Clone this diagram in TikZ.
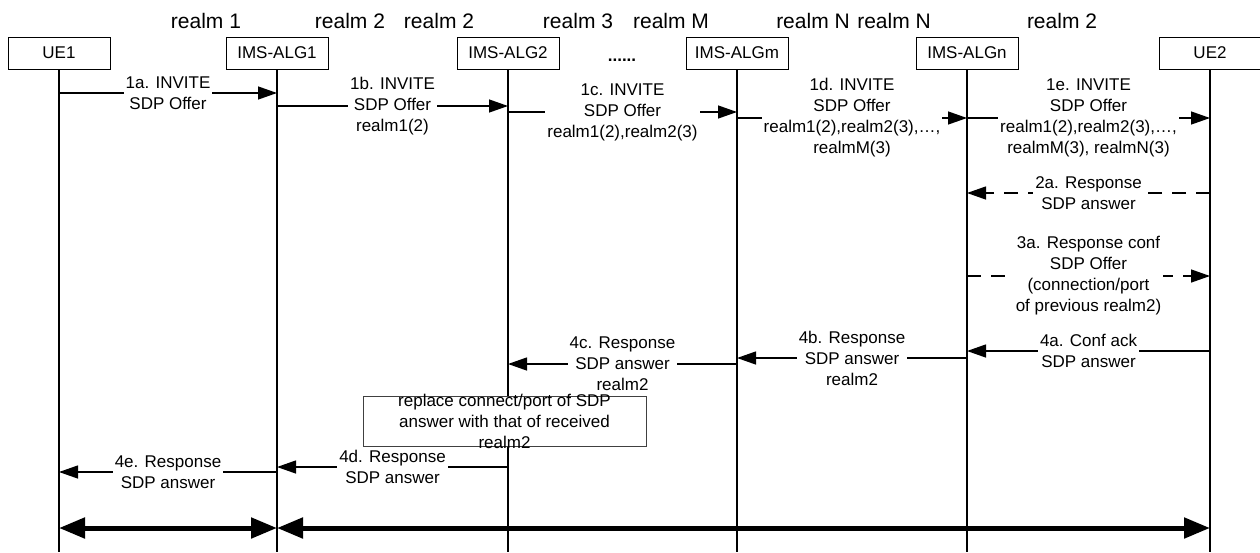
\documentclass[tikz,border=0pt]{standalone}
\usepackage{fontspec}
\setmainfont{Liberation Sans}
\usetikzlibrary{arrows.meta}

\begin{document}
\begin{tikzpicture}[x=1pt,y=-1pt,
  head/.style={draw, line width=1pt, fill=white, minimum width=102pt,
    minimum height=32pt, inner sep=0pt, font=\fontsize{17}{21}\selectfont},
  life/.style={line width=1.2pt},
  msg/.style={line width=1.3pt, -{Triangle[length=19pt,width=13pt]}},
  rsp/.style={msg, dash pattern=on 14pt off 10pt},
  lbl/.style={fill=white, inner sep=2pt, align=center,
    font=\fontsize{17}{21}\selectfont},
  notetext/.style={inner sep=0pt, align=center, font=\fontsize{17}{21}\selectfont},
  notebox/.style={draw=black!75, line width=0.8pt, fill=white,
    minimum width=283pt, minimum height=50pt, inner sep=0pt},
  realm/.style={inner sep=0pt, font=\fontsize{21}{25}\selectfont},
  bold/.style={line width=5pt,
    {Triangle[length=26pt,width=20pt]}-{Triangle[length=26pt,width=20pt]}},
]
\useasboundingbox (0,0) rectangle (1260,552);
\fill[white] (0,0) rectangle (1260,552);

% realm names along the top
\node[realm] (r1)  at (206,21)  {realm 1};
\node[realm] (r2a) at (350,21)  {realm 2};
\node[realm] (r2b) at (439,21)  {realm 2};
\node[realm] (r3)  at (578,21)  {realm 3};
\node[realm] (rM)  at (671,21)  {realm M};
\node[realm] (rNa) at (813,21)  {realm N};
\node[realm] (rNb) at (894,21)  {realm N};
\node[realm] (r2c) at (1062,21) {realm 2};

% participants
\node[head] (ue1)  at (59,53)   {UE1};
\node[head] (alg1) at (277,53)  {IMS-ALG1};
\node[head] (alg2) at (508,53)  {IMS-ALG2};
\node[head] (algm) at (737,53)  {IMS-ALGm};
\node[head] (algn) at (967,53)  {IMS-ALGn};
\node[head] (ue2)  at (1210,53) {UE2};
\node[anchor=base, inner sep=0pt, font=\fontsize{17}{21}\selectfont\bfseries] (dots) at (622,61) {......};

% lifelines
\coordinate (bottom) at (0,552);
\foreach \p in {ue1,alg1,alg2,algm,algn,ue2}
  \draw[life] (\p.south) -- (\p.south |- bottom);

% message levels
\coordinate (y1a) at (0,93);
\coordinate (y1b) at (0,106);
\coordinate (y1c) at (0,112);
\coordinate (y1d) at (0,118);
\coordinate (y1e) at (0,118);
\coordinate (y2a) at (0,193);
\coordinate (y3a) at (0,276);
\coordinate (y4a) at (0,351);
\coordinate (y4b) at (0,358);
\coordinate (y4c) at (0,364);
\coordinate (y4d) at (0,467);
\coordinate (y4e) at (0,472);
\coordinate (ybar) at (0,528);

% INVITE chain
\draw[msg] (ue1 |- y1a) -- node[lbl] {1a. INVITE\\SDP Offer} (alg1 |- y1a);
\draw[msg] (alg1 |- y1b) -- node[lbl] {1b. INVITE\\SDP Offer\\realm1(2)} (alg2 |- y1b);
\draw[msg] (alg2 |- y1c) -- node[lbl] {1c. INVITE\\SDP Offer\\realm1(2),realm2(3)} (algm |- y1c);
\draw[msg] (algm |- y1d) -- node[lbl] {1d. INVITE\\SDP Offer\\realm1(2),realm2(3),…,\\realmM(3)} (algn |- y1d);
\draw[msg] (algn |- y1e) -- node[lbl] {1e. INVITE\\SDP Offer\\realm1(2),realm2(3),…,\\realmM(3), realmN(3)} (ue2 |- y1e);

% response and confirmation
\draw[rsp] (ue2 |- y2a) -- node[lbl] {2a. Response\\SDP answer} (algn |- y2a);
\draw[rsp] (algn |- y3a) -- node[lbl] {3a. Response conf\\SDP Offer\\(connection/port\\of previous realm2)} (ue2 |- y3a);

% answers travelling back
\draw[msg] (ue2 |- y4a) -- node[lbl] {4a. Conf ack\\SDP answer} (algn |- y4a);
\draw[msg] (algn |- y4b) -- node[lbl] {4b. Response\\SDP answer\\realm2} (algm |- y4b);
\draw[msg] (algm |- y4c) -- node[lbl] {4c. Response\\SDP answer\\realm2} (alg2 |- y4c);

% processing note on IMS-ALG2
\node[notebox] (note) at (504.5,421) {};
\node[notetext] (notetxt) at (note) {replace connect/port of SDP\\answer with that of received\\realm2};

\draw[msg] (alg2 |- y4d) -- node[lbl] {4d. Response\\SDP answer} (alg1 |- y4d);
\draw[msg] (alg1 |- y4e) -- node[lbl] {4e. Response\\SDP answer} (ue1 |- y4e);

% media paths
\draw[bold] (ue1 |- ybar) -- (alg1 |- ybar);
\draw[bold] (alg1 |- ybar) -- (ue2 |- ybar);
\end{tikzpicture}
\end{document}
